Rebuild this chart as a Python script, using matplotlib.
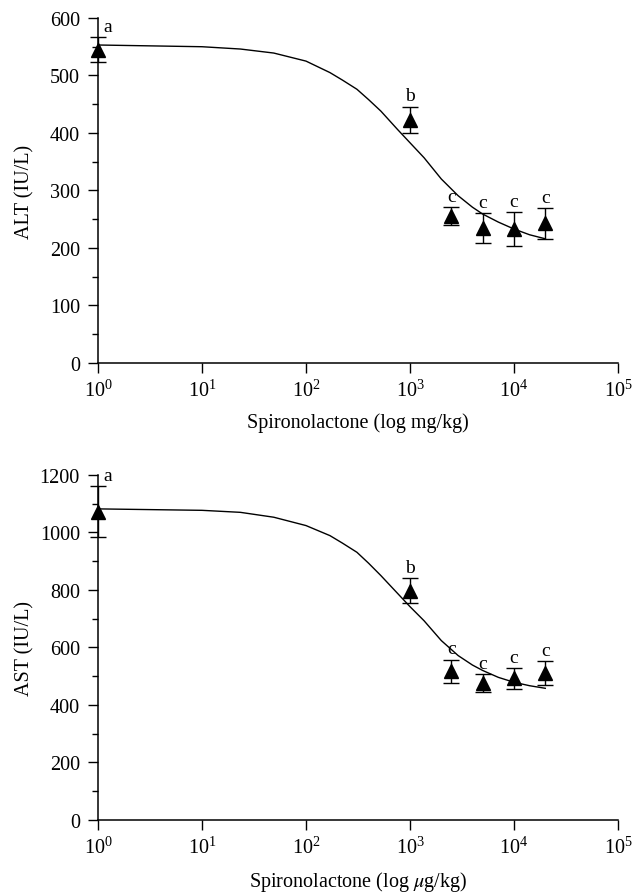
import matplotlib
matplotlib.use('Agg')
import matplotlib.pyplot as plt
from matplotlib.ticker import MultipleLocator, LogLocator, NullLocator

plt.rcParams['font.family'] = ['Liberation Serif', 'DejaVu Serif']
plt.rcParams['mathtext.fontset'] = 'stix'

# doses (same for both panels)
dose = [1, 1000, 2500, 5000, 10000, 20000]
groups = ['a', 'b', 'c', 'c', 'c', 'c']

# ALT panel
alt_mean = [545, 423, 256, 235, 233, 243]
alt_err = [22, 23, 16, 26, 30, 27]

# AST panel
ast_mean = [1072, 798, 518, 476, 493, 511]
ast_err = [88, 42, 40, 32, 37, 41]

# fitted curves
curve_dose = [1, 10, 23.4, 49, 100, 170, 224, 309, 400, 525, 760, 1000, 1365,
              2000, 2900, 3981, 5000, 7079, 10000, 14125, 20000]
alt_curve = [553, 550, 546, 539, 525, 505, 492, 476, 458, 438, 406, 383, 357,
             320, 291, 271, 259, 245, 233, 223, 216]
ast_curve = [1082, 1077, 1070, 1053, 1024, 989, 963, 931, 893, 850, 788, 742, 693,
             624, 572, 539, 520, 496, 479, 467, 458]


def draw_panel(ax, mean, err, curve, ymax, major, minor, ylabel, xlabel):
    ax.plot(curve_dose, curve, color='black', lw=1.0)
    ax.errorbar(dose, mean, yerr=err, fmt='^', color='black', ms=10,
                elinewidth=1.0, capsize=6, capthick=1.0, clip_on=False, zorder=3)
    for i, (x, m, e, g) in enumerate(zip(dose, mean, err, groups)):
        dx = 7 if i == 0 else 0
        ax.annotate(g, (x, m + e), xytext=(dx, 1.5), textcoords='offset points',
                    ha='center', va='bottom', fontsize=14, annotation_clip=False)

    ax.set_xscale('log')
    ax.set_xlim(1, 1e5)
    ax.set_ylim(0, ymax)
    ax.xaxis.set_major_locator(LogLocator(base=10, numticks=10))
    ax.xaxis.set_minor_locator(NullLocator())
    ax.yaxis.set_major_locator(MultipleLocator(major))
    ax.yaxis.set_minor_locator(MultipleLocator(minor))

    for side in ['top', 'right']:
        ax.spines[side].set_visible(False)
    for side in ['left', 'bottom']:
        ax.spines[side].set_linewidth(1.1)
    ax.tick_params(which='major', direction='out', length=7, width=1.0, labelsize=14.5)
    ax.tick_params(axis='y', which='major', pad=6)
    ax.tick_params(axis='x', which='major', pad=5)
    ax.tick_params(which='minor', direction='out', length=4, width=1.0)

    ax.set_ylabel(ylabel, fontsize=14.5)
    ax.set_xlabel(xlabel, fontsize=14.5)
    ax.yaxis.set_label_coords(-0.122, 0.5)
    ax.xaxis.set_label_coords(0.5, -0.142)


fig = plt.figure(figsize=(6.43, 8.95), dpi=100)
ax1 = fig.add_axes([0.1524, 0.5933, 0.8087, 0.3855])
ax2 = fig.add_axes([0.1524, 0.0827, 0.8087, 0.3855])

draw_panel(ax1, alt_mean, alt_err, alt_curve, 600, 100, 50,
           'ALT (IU/L)', 'Spironolactone (log mg/kg)')
draw_panel(ax2, ast_mean, ast_err, ast_curve, 1200, 200, 100,
           'AST (IU/L)', r'Spironolactone (log $\mu$g/kg)')

fig.savefig('out.png', dpi=100)
